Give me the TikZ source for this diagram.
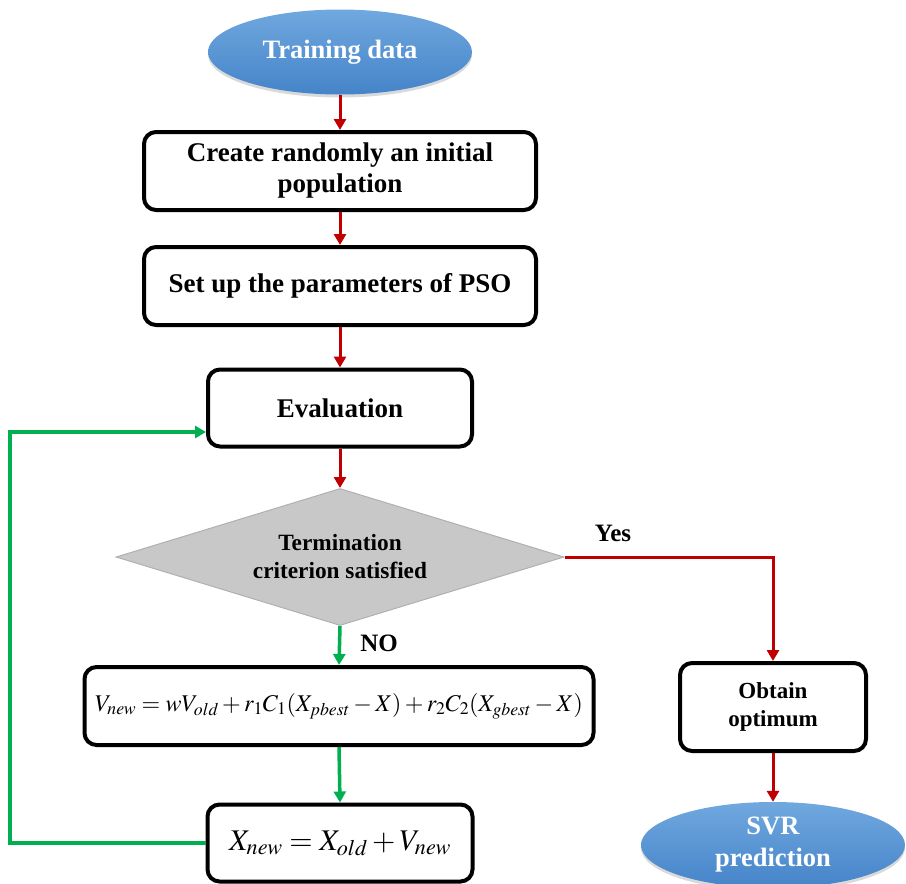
\documentclass[tikz,border=0pt]{standalone}
\usepackage{mathptmx}
\usepackage{fontspec}
\setmainfont{Liberation Serif}
\usetikzlibrary{shapes.geometric,arrows.meta,shadows}
\definecolor{arrred}{HTML}{C00000}
\definecolor{arrgreen}{HTML}{00B050}
\definecolor{bluetop}{HTML}{70A8DF}
\definecolor{bluebot}{HTML}{4584C9}
\definecolor{diafill}{HTML}{C8C8C8}
\definecolor{diadraw}{HTML}{B0B0B0}
\begin{document}
\begin{tikzpicture}[x=1pt,y=-1pt,
  procbox/.style={draw=black,line width=4pt,rounded corners=12pt,fill=white,
    align=center,inner sep=0pt,font=\fontsize{27}{31}\selectfont\bfseries},
  termell/.style={ellipse,inner sep=0pt,top color=bluetop,bottom color=bluebot,
    draw=none,text=white,align=center,
    drop shadow={shadow xshift=0pt,shadow yshift=-3pt,opacity=0.15,fill=black},
    font=\fontsize{26.5}{32}\selectfont\bfseries},
  decis/.style={diamond,aspect=3.27,inner sep=0pt,fill=diafill,draw=diadraw,
    line width=1pt,align=center,font=\fontsize{23.3}{28}\selectfont\bfseries},
  redarr/.style={draw=arrred,line width=3pt,-{Triangle[length=11pt,width=12pt]}},
  greenarr/.style={draw=arrgreen,line width=3.5pt,-{Triangle[length=11pt,width=12pt]}},
  lbl/.style={font=\fontsize{25}{30}\selectfont\bfseries,inner sep=0pt}
]
\useasboundingbox (0,0) rectangle (906,884);
\clip (0,0) rectangle (906,884);

\node[termell,minimum width=264pt,minimum height=85pt] (train) at (340,52) {Training data};
\node[procbox,minimum width=392pt,minimum height=78pt] (init) at (340,171)
  {Create randomly an initial\\population};
\node[procbox,minimum width=392pt,minimum height=78pt] (param) at (340,286)
  {Set up the parameters of PSO};
\node[procbox,minimum width=264pt,minimum height=77pt] (eval) at (340,408) {Evaluation};
\node[decis,minimum width=448pt,minimum height=137pt] (term) at (340,557)
  {Termination\\criterion satisfied};
\node[procbox,minimum width=509pt,minimum height=78pt,font=\fontsize{24}{30}\selectfont] (vel) at (339,706)
  {$V_{new}=wV_{old}+r_1C_1(X_{pbest}-X)+r_2C_2(X_{gbest}-X)$};
\node[procbox,minimum width=265pt,minimum height=77pt,font=\fontsize{30}{34}\selectfont] (pos) at (340,843)
  {\raisebox{-5pt}{$X_{new}=X_{old}+V_{new}$}};
\node[procbox,minimum width=186pt,minimum height=88pt,font=\fontsize{23}{28}\selectfont\bfseries] (opt) at (773,707)
  {Obtain\\optimum};
\node[termell,minimum width=264pt,minimum height=86pt] (svr) at (773,845) {SVR\\prediction};

\draw[redarr] (train.south) -- (init.north);
\draw[redarr] (init.south) -- (param.north);
\draw[redarr] (param.south) -- (eval.north);
\draw[redarr] (eval.south) -- (term.north);
\draw[redarr] (term.east) -| (opt.north);
\draw[redarr] (opt.south) -- (svr.north);
\draw[greenarr] (term.south) -- (vel.north);
\draw[greenarr] (vel.south) -- (pos.north);

\coordinate (looptop) at (10,432);
\draw[greenarr] (pos.west) -| (looptop) -- (eval.west |- looptop);

\node[lbl,anchor=center] (yes) at (613,533) {Yes};
\node[lbl,anchor=center] (no) at (379,643) {NO};
\end{tikzpicture}
\end{document}
